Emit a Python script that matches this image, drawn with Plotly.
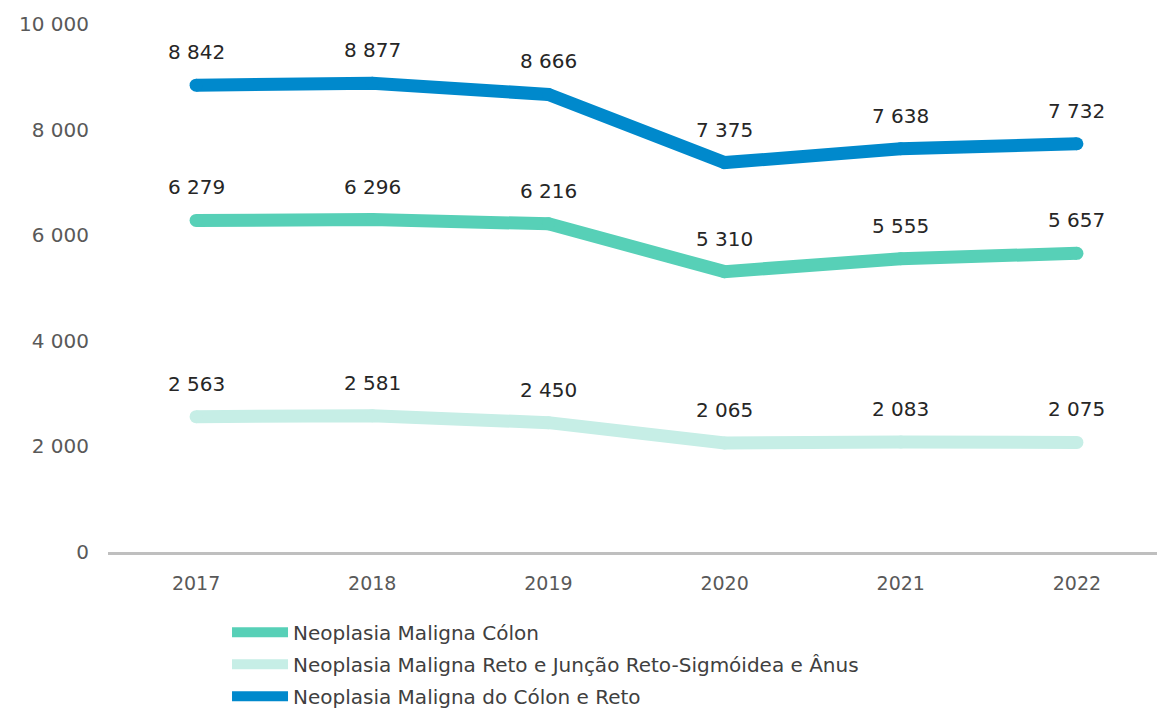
import plotly.graph_objects as go

years = ["2017", "2018", "2019", "2020", "2021", "2022"]
colon = [6279, 6296, 6216, 5310, 5555, 5657]
reto = [2563, 2581, 2450, 2065, 2083, 2075]
total = [8842, 8877, 8666, 7375, 7638, 7732]

names = [
    "Neoplasia Maligna Cólon",
    "Neoplasia Maligna Reto e Junção Reto-Sigmóidea e Ânus",
    "Neoplasia Maligna do Cólon e Reto",
]
colors = ["#57D0B7", "#C6EEE6", "#0089CC"]
series = [colon, reto, total]

FONT = "DejaVu Sans"
LW = 13

fig = go.Figure()
annotations = []
for gi, (name, vals, col) in enumerate(zip(names, series, colors)):
    fig.add_trace(go.Scatter(
        x=years, y=vals, mode="lines", name=name,
        legendgroup=f"g{gi}",
        line=dict(color=col, width=LW),
        hoverinfo="skip",
    ))
    # round caps / joins
    fig.add_trace(go.Scatter(
        x=years, y=vals, mode="markers", showlegend=False,
        legendgroup=f"g{gi}",
        marker=dict(color=col, size=LW, line=dict(width=0)),
        hoverinfo="skip",
    ))
    for i, yv in enumerate(vals):
        annotations.append(dict(
            x=i, y=yv, xref="x", yref="y",
            text=f"{yv:,}".replace(",", " "),
            showarrow=False, yshift=33,
            font=dict(family=FONT, size=20, color="#262626"),
        ))

fig.update_layout(
    width=1157, height=700,
    margin=dict(l=100, r=0, t=16, b=156, autoexpand=False),
    paper_bgcolor="white", plot_bgcolor="white",
    separators=", ",
    annotations=annotations,
    showlegend=True,
    legend=dict(
        orientation="v", x=0.1126, xanchor="left", y=-0.115, yanchor="top",
        font=dict(family=FONT, size=20, color="#404040"),
        itemwidth=56, tracegroupgap=3, bgcolor="rgba(0,0,0,0)",
    ),
    xaxis=dict(
        type="category", range=[-0.5, 5.5], automargin=False,
        showgrid=False, zeroline=False,
        showline=True, linecolor="#BFBFBF", linewidth=3,
        ticks="", ticklabelstandoff=12,
        tickfont=dict(family=FONT, size=19, color="#595959"),
    ),
    yaxis=dict(
        range=[0, 10000], tickvals=[0, 2000, 4000, 6000, 8000, 10000],
        tickformat=",d", automargin=False,
        showgrid=False, zeroline=False, showline=False,
        ticks="", ticklabelstandoff=18,
        tickfont=dict(family=FONT, size=20, color="#595959"),
    ),
)

fig.write_html("out.html")
